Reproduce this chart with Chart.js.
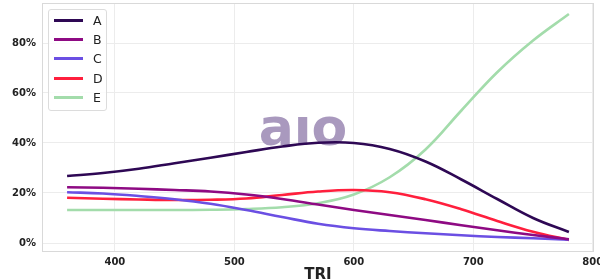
<!DOCTYPE html>
<html>
<head>
<meta charset="utf-8">
<script src="https://cdn.jsdelivr.net/npm/chart.js@4/dist/chart.umd.min.js"></script>
<style>
  html, body { margin: 0; padding: 0; background: #fff; }
  #wrap { position: relative; width: 600px; height: 280px; }
  #legend {
    position: absolute; left: 48px; top: 9px; width: 57px;
    border: 1px solid #dcdcdc; border-radius: 3px; background: rgba(255,255,255,0.85);
    font-family: 'DejaVu Sans', sans-serif; font-size: 12.5px; color: #222;
    padding: 1px 0 3px 0;
  }
  .item { display: flex; align-items: center; height: 19.2px; }
  .swatch { width: 29px; height: 3px; margin-left: 5px; margin-right: 10px; }
</style>
</head>
<body>
<div id="wrap">
  <canvas id="grafico" width="600" height="280"></canvas>
  <div id="legend"></div>
</div>
<script>
// Dados (TRI x percentual)
const tri = [360, 390, 420, 450, 480, 510, 540, 570, 600, 630, 660, 690, 720, 750, 780]
const serieA = [26.8, 28.0, 29.7, 31.9, 34.1, 36.4, 38.6, 40.1, 40.0, 37.6, 32.6, 25.4, 17.6, 10.0, 4.4]
const serieB = [22.3, 22.1, 21.7, 21.2, 20.6, 19.4, 17.6, 15.4, 13.2, 11.2, 9.2, 7.1, 5.1, 3.2, 1.5]
const serieC = [20.3, 19.8, 18.8, 17.5, 15.7, 13.2, 10.4, 7.7, 5.9, 4.8, 3.9, 3.1, 2.4, 1.9, 1.3]
const serieD = [18.1, 17.7, 17.4, 17.2, 17.3, 17.8, 19.2, 20.6, 21.2, 20.3, 17.5, 13.5, 8.8, 4.5, 1.2]
const serieE = [13.2, 13.2, 13.2, 13.2, 13.3, 13.6, 14.3, 15.9, 19.4, 26.3, 37.4, 53.0, 68.3, 81.0, 91.6]
const nomes = ['A', 'B', 'C', 'D', 'E']
const cores = ['#2e0854', '#8e0a83', '#6b4fe3', '#ff1f3d', '#a3dcab']
const yTicks = [0, 20, 40, 60, 80]
const xTicks = [400, 500, 600, 700, 800]

const series = [serieA, serieB, serieC, serieD, serieE]

const moldura = {
  id: 'moldura',
  beforeDatasetsDraw(chart) {
    const { ctx } = chart
    ctx.save()
    ctx.font = 'bold 52px "DejaVu Sans"'
    ctx.fillStyle = '#a999be'
    ctx.textAlign = 'center'
    ctx.textBaseline = 'alphabetic'
    ctx.fillText('aıo', 303, 145)
    ctx.restore()
  },
  afterDraw(chart) {
    const { ctx, chartArea: a } = chart
    ctx.save()
    ctx.strokeStyle = '#d9d9d9'
    ctx.lineWidth = 1
    ctx.strokeRect(a.left + 0.5, a.top + 0.5, a.width - 1, a.height - 1)
    // título do eixo x
    ctx.font = 'bold 15px "DejaVu Sans"'
    ctx.fillStyle = '#222'
    ctx.textAlign = 'center'
    ctx.textBaseline = 'alphabetic'
    ctx.fillText('TRI', (a.left + a.right) / 2, 279)
    ctx.restore()
  }
}

const ctx = document.getElementById('grafico').getContext('2d')
new Chart(ctx, {
  type: 'line',
  data: {
    datasets: series.map((s, i) => ({
      label: nomes[i],
      data: s.map((v, j) => ({ x: tri[j], y: v })),
      borderColor: cores[i],
      backgroundColor: cores[i],
      borderWidth: 2.6,
      pointRadius: 0,
      tension: 0.4,
      fill: false
    }))
  },
  options: {
    responsive: false,
    animation: false,
    layout: { padding: { top: 3, right: 6, left: 0, bottom: 0 } },
    plugins: {
      legend: { display: false },
      tooltip: { enabled: false }
    },
    scales: {
      x: {
        type: 'linear',
        min: 339,
        max: 801,
        afterBuildTicks(scale) {
          scale.ticks = xTicks.map(v => ({ value: v }))
        },
        grid: { color: '#ececec', drawTicks: false },
        border: { display: false },
        ticks: {
          padding: 4,
          color: '#222',
          font: { family: 'DejaVu Sans', size: 10, weight: 'bold' }
        },
        afterFit(scale) {
          scale.height = 28
          scale.paddingLeft = 0
          scale.paddingRight = 0
        }
      },
      y: {
        min: -3.6,
        max: 96,
        afterBuildTicks(scale) {
          scale.ticks = yTicks.map(v => ({ value: v }))
        },
        grid: { color: '#ececec', drawTicks: false },
        border: { display: false },
        ticks: {
          padding: 6,
          color: '#222',
          font: { family: 'DejaVu Sans', size: 10, weight: 'bold' },
          callback: v => v + '%'
        },
        afterFit(scale) {
          scale.width = 42
          scale.paddingTop = 0
          scale.paddingBottom = 0
        }
      }
    }
  },
  plugins: [moldura]
})

// Legenda em HTML dentro da área do gráfico
document.getElementById('legend').innerHTML = nomes
  .map((n, i) => `<div class="item"><span class="swatch" style="background:${cores[i]}"></span>${n}</div>`)
  .join('')
</script>
</body>
</html>
